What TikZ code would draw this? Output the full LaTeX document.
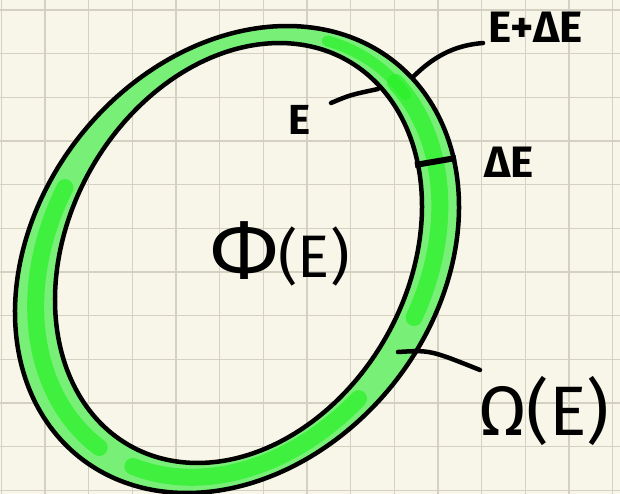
\documentclass[tikz,border=0pt]{standalone}
\usepackage{fontspec}
\setmainfont{Fira Sans}
\definecolor{paper}{HTML}{F8F6E9}
\definecolor{gridc}{HTML}{D4D0C2}
\definecolor{ringlight}{HTML}{78F078}
\definecolor{ringbright}{HTML}{28F028}
\begin{document}
\begin{tikzpicture}[x=1pt,y=-1pt,
  ink/.style={line width=4.5pt, line cap=round, black},
  gridline/.style={gridc, line width=1.3pt},
  lbl/.style={inner sep=0pt, text=black},
  brush/.style={ringbright, line width=17pt, line cap=round, opacity=0.7},
  thinbrush/.style={ringbright, line width=11pt, line cap=round, opacity=0.7},
]
\fill[paper] (0,0) rectangle (620,494);
\useasboundingbox (0,0) rectangle (620,494);
\foreach \i in {0,...,14} \draw[gridline] ({1.3+43.67*\i},0) -- ({1.3+43.67*\i},494);
\foreach \i in {0,...,11} \draw[gridline] (0,{10+43.65*\i}) -- (620,{10+43.65*\i});

% ring fill
\fill[ringlight, even odd rule]
  plot[domain=0:360, samples=241, variable=\t] ({237+158.05*cos(\t)-155.92*sin(\t)}, {259.5-197.29*cos(\t)-124.91*sin(\t)}) -- cycle
  plot[domain=0:360, samples=241, variable=\t] ({238.5+108.59*cos(\t)-147.93*sin(\t)}, {253-192.71*cos(\t)-83.36*sin(\t)}) -- cycle;

% brush strokes
\draw[brush] plot[domain=100:178, samples=40, variable=\t] ({237.75+133.3*cos(\t)-151.9*sin(\t)}, {256.25-195.0*cos(\t)-104.1*sin(\t)});
\draw[brush] plot[domain=190:258, samples=40, variable=\t] ({237.75+133.3*cos(\t)-151.9*sin(\t)}, {256.25-195.0*cos(\t)-104.1*sin(\t)});
\draw[brush] plot[domain=282:350, samples=40, variable=\t] ({237.75+133.3*cos(\t)-151.9*sin(\t)}, {256.25-195.0*cos(\t)-104.1*sin(\t)});
\draw[thinbrush] plot[domain=345:375, samples=20, variable=\t] ({237.75+133.3*cos(\t)-151.9*sin(\t)}, {256.25-195.0*cos(\t)-104.1*sin(\t)});

% outlines
\draw[ink] plot[domain=0:360, samples=241, variable=\t] ({237+158.05*cos(\t)-155.92*sin(\t)}, {259.5-197.29*cos(\t)-124.91*sin(\t)}) -- cycle;
\draw[ink] plot[domain=0:360, samples=241, variable=\t] ({238.5+108.59*cos(\t)-147.93*sin(\t)}, {253-192.71*cos(\t)-83.36*sin(\t)}) -- cycle;

% labels
\node[lbl, font=\bfseries\fontsize{44}{44}\selectfont, anchor=base west] (tEdE) at (488,43) {E+ΔE};
\node[lbl, font=\bfseries\fontsize{42}{42}\selectfont] (tE) at (300,120) {E};
\node[lbl, font=\bfseries\fontsize{44}{44}\selectfont] (tdE) at (509,162) {ΔE};
\node[lbl] (tPhi) at (280,254) {\raisebox{-0.22em}{\fontsize{84}{84}\selectfont Φ}\fontsize{60}{60}\selectfont(E)};
\node[lbl, font=\fontsize{70}{70}\selectfont] (tOm) at (544,411) {Ω(E)};

% connectors
\coordinate (pEdE) at (413,77);
\coordinate (eEdE) at (483,43);
\draw[ink] (pEdE) .. controls (438,52) and (460,45) .. (eEdE);
\coordinate (eE) at (331,103);
\coordinate (pE) at (378,89);
\draw[ink] (eE) .. controls (350,95) .. (pE);
\coordinate (tk1) at (415,165);
\coordinate (tk2) at (456,158);
\draw[line width=6pt] (tk1) -- (tk2);
\coordinate (pW) at (398,352);
\coordinate (eW) at (480,370);
\draw[ink] (pW) .. controls (430,350) .. (eW);
\end{tikzpicture}
\end{document}
